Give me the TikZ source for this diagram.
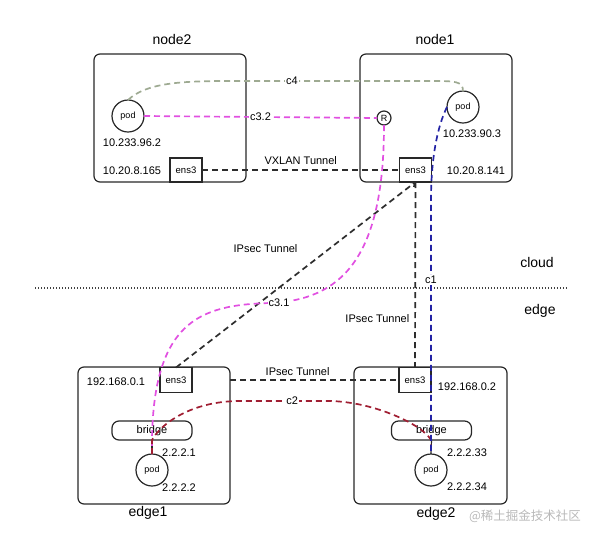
\documentclass[tikz,border=0pt]{standalone}
\usepackage{fontspec}
\setmainfont{Liberation Sans}
\newfontfamily\cjkfont{Noto Sans CJK SC}
\usetikzlibrary{arrows.meta}
\definecolor{boxline}{RGB}{40,40,40}
\definecolor{magline}{RGB}{225,80,225}
\definecolor{greenline}{RGB}{158,170,146}
\definecolor{redline}{RGB}{160,30,50}
\definecolor{blueline}{RGB}{35,35,165}
\definecolor{tunnelline}{RGB}{45,45,45}
\definecolor{wmark}{RGB}{185,185,185}
\tikzset{
  hostbox/.style={draw=boxline, line width=1.2pt, rounded corners=6pt, inner sep=0pt, outer sep=0pt},
  ensbox/.style={draw=boxline, line width=1.2pt, minimum width=32, minimum height=24, inner sep=0pt, outer sep=0pt, font=\fontsize{9.5}{11}\selectfont},
  podnode/.style={draw=boxline, line width=1.2pt, circle, fill=white, minimum size=32, inner sep=0pt, outer sep=0pt, font=\fontsize{9}{10}\selectfont},
  rnode/.style={draw=boxline, line width=1.2pt, circle, fill=white, minimum size=14, inner sep=0pt, outer sep=0pt, font=\fontsize{9}{10}\selectfont},
  bridgebox/.style={draw=boxline, line width=1.2pt, rounded corners=7pt, minimum width=80, minimum height=19, inner sep=0pt, outer sep=0pt, font=\fontsize{11}{12}\selectfont},
  titletext/.style={font=\fontsize{14}{16}\selectfont, inner sep=1pt},
  lbltext/.style={font=\fontsize{11}{13}\selectfont, inner sep=1pt},
  conlbl/.style={font=\fontsize{11}{13}\selectfont, fill=white, inner sep=1pt},
  dashline/.style={line width=1.7pt, dash pattern=on 6pt off 4pt},
  tunnel/.style={dashline, draw=tunnelline},
  cfour/.style={dashline, draw=greenline},
  cthree/.style={dashline, draw=magline},
  ctwo/.style={dashline, draw=redline},
  cone/.style={dashline, draw=blueline},
}
\begin{document}
\begin{tikzpicture}[x=1pt,y=-1pt]
\useasboundingbox (0,0) rectangle (598,539);

% host boxes
\node[hostbox, minimum width=152, minimum height=128] (N2) at (170,118) {};
\node[hostbox, minimum width=152, minimum height=128] (N1) at (436,118) {};
\node[hostbox, minimum width=152, minimum height=137] (E1) at (154,435.5) {};
\node[hostbox, minimum width=153, minimum height=137] (E2) at (430.5,435.5) {};

% titles
\node[titletext] (tN2) at (172,39) {node2};
\node[titletext] (tN1) at (435,39) {node1};
\node[titletext] (tE1) at (148,513) {edge1};
\node[titletext] (tE2) at (436,514) {edge2};
\node[titletext] (tcloud) at (537,262) {cloud};
\node[titletext] (tedge) at (540,311) {edge};

% inner elements
\node[ensbox] (en2) at (186,170) {ens3};
\node[ensbox] (en1) at (415.5,170) {ens3};
\node[ensbox, minimum height=25] (ee1) at (176,380) {ens3};
\node[ensbox, minimum height=25] (ee2) at (415,380) {ens3};

\node[podnode] (p2) at (128,116) {pod};
\node[podnode] (p1) at (463,107) {pod};
\node[podnode] (p3) at (152,470) {pod};
\node[podnode] (p4) at (431,470) {pod};
\node[rnode] (R) at (384,118) {R};

\node[bridgebox] (b1) at (152,430.5) {bridge};
\node[bridgebox] (b2) at (431.5,430.5) {bridge};

% address labels
\node[lbltext] (a1) at (132,143) {10.233.96.2};
\node[lbltext] (a2) at (132,171) {10.20.8.165};
\node[lbltext] (a3) at (472,134) {10.233.90.3};
\node[lbltext] (a4) at (476,171) {10.20.8.141};
\node[lbltext] (a5) at (116,382) {192.168.0.1};
\node[lbltext] (a6) at (467,387) {192.168.0.2};
\node[lbltext] (a7) at (179,453) {2.2.2.1};
\node[lbltext] (a8) at (179,488) {2.2.2.2};
\node[lbltext] (a9) at (467,453) {2.2.2.33};
\node[lbltext] (a10) at (467,487) {2.2.2.34};

% cloud / edge divider
\coordinate (divL) at (35,288);
\coordinate (divR) at (568,288);
\draw[draw=black!75, line width=1.3pt, dash pattern=on 1.3pt off 1.7pt] (divL) -- (divR);

% bridge to pod
\draw[boxline, line width=1.2pt] (b1.south) -- (p3.north);
\draw[boxline, line width=1.2pt] (b2.south) -- (p4.north);

% tunnels
\draw[tunnel] (en2.east) -- node[lbltext, above=4pt] {VXLAN Tunnel} (en1.west);
\draw[tunnel] (en1.south) -- node[lbltext, pos=0.735, left=4pt] {IPsec Tunnel} (ee2.north);
\draw[tunnel, -{Straight Barb[length=3pt,width=6pt]}] (ee1.north) -- node[lbltext, pos=0.64, left=30pt] {IPsec Tunnel} (en1.south);
\draw[tunnel] (E1.east |- ee2.west) -- node[lbltext, pos=0.4, above=3pt] {IPsec Tunnel} (ee2.west);

% c4
\draw[cfour] (p2.north) .. controls +(18,-17) and +(-50,0) .. (230,81)
  -- node[conlbl, pos=0.31] {c4} (430,81) .. controls +(25,0) and +(0,-10) .. (p1.north);

% c3.2
\draw[cthree] (p2.east) -- node[conlbl, pos=0.5] {c3.2} (R.west);

% c3.1
\draw[cthree] (R.south) .. controls (384,260) and (340,300) .. (270,303)
  .. controls (200,305) and (150,320) .. (p3.north);
\node[conlbl] (c31) at (279,303) {c3.1};

% c2
\draw[ctwo] (p3.north) -- (152,440) .. controls +(8,-15) and +(-50,0) .. (240,401)
  -- node[conlbl, pos=0.58] {c2} (330,401) .. controls +(45,1) and +(-8,-15) .. (431,440) -- (p4.north);

% c1
\draw[cone] (p1.west) .. controls +(-10,20) and +(0,-40) .. (431,200)
  -- node[conlbl, pos=0.315] {c1} (p4.north);

% watermark
\node[font=\cjkfont\fontsize{12.5}{14}\selectfont, text=wmark, inner sep=0pt] (wm) at (525,516) {@稀土掘金技术社区};
\end{tikzpicture}
\end{document}
